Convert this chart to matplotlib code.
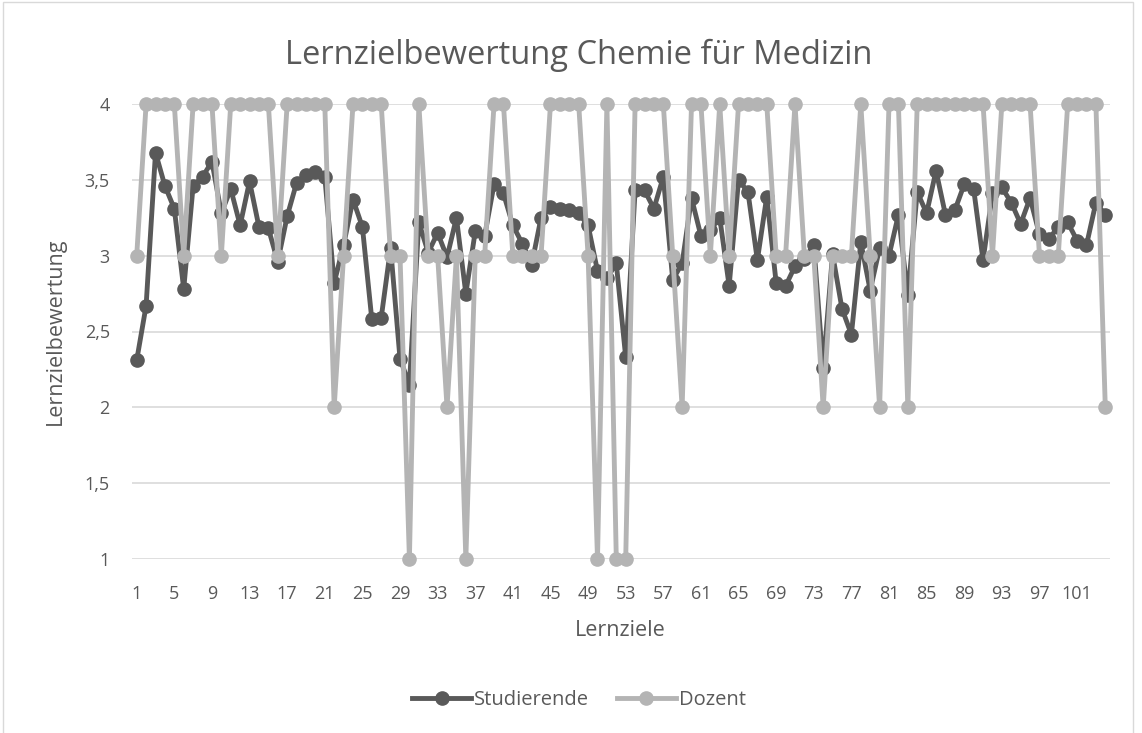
import matplotlib.pyplot as plt
from matplotlib.patches import Rectangle
import numpy as np

# Daten
studierende = [
    2.31, 2.67, 3.68, 3.46, 3.31, 2.78, 3.46, 3.52, 3.62, 3.28,
    3.44, 3.20, 3.49, 3.19, 3.18, 2.96, 3.26, 3.48, 3.53, 3.55,
    3.52, 2.82, 3.07, 3.37, 3.19, 2.58, 2.59, 3.05, 2.32, 2.15,
    3.22, 3.02, 3.15, 2.99, 3.25, 2.75, 3.16, 3.13, 3.47, 3.41,
    3.20, 3.08, 2.94, 3.25, 3.32, 3.31, 3.30, 3.28, 3.20, 2.90,
    2.85, 2.95, 2.33, 3.43, 3.43, 3.31, 3.52, 2.84, 2.95, 3.38,
    3.13, 3.17, 3.25, 2.80, 3.50, 3.42, 2.97, 3.39, 2.82, 2.80,
    2.93, 2.98, 3.07, 2.26, 3.01, 2.65, 2.48, 3.09, 2.77, 3.05,
    3.00, 3.27, 2.74, 3.42, 3.28, 3.56, 3.27, 3.30, 3.47, 3.44,
    2.97, 3.41, 3.45, 3.35, 3.21, 3.38, 3.14, 3.11, 3.19, 3.22,
    3.10, 3.07, 3.35, 3.27,
]
dozent = [
    3, 4, 4, 4, 4, 3, 4, 4, 4, 3,
    4, 4, 4, 4, 4, 3, 4, 4, 4, 4,
    4, 2, 3, 4, 4, 4, 4, 3, 3, 1,
    4, 3, 3, 2, 3, 1, 3, 3, 4, 4,
    3, 3, 3, 3, 4, 4, 4, 4, 3, 1,
    4, 1, 1, 4, 4, 4, 4, 3, 2, 4,
    4, 3, 4, 3, 4, 4, 4, 4, 3, 3,
    4, 3, 3, 2, 3, 3, 3, 4, 3, 2,
    4, 4, 2, 4, 4, 4, 4, 4, 4, 4,
    4, 3, 4, 4, 4, 4, 3, 3, 3, 4,
    4, 4, 4, 2,
]
lernziele = np.arange(1, len(studierende) + 1)
y_ticks = [1, 1.5, 2, 2.5, 3, 3.5, 4]

plt.rcParams['font.family'] = ['Open Sans', 'DejaVu Sans']
text_color = '#595959'

W, H = 1142, 733
fig = plt.figure(figsize=(W / 100, H / 100), dpi=100)
ax = fig.add_axes([132 / W, 1 - 559 / H, (1110 - 132) / W, (559 - 104) / H])

ax.plot(lernziele, studierende, color='#595959', linewidth=3.5,
        marker='o', markersize=9.5, label='Studierende', zorder=3, clip_on=False)
ax.plot(lernziele, dozent, color='#b4b4b4', linewidth=3.5,
        marker='o', markersize=9.5, label='Dozent', zorder=4, clip_on=False)

ax.set_xlim(0.5, len(lernziele) + 0.5)
ax.set_ylim(1, 4)
ax.set_yticks(y_ticks)
ax.set_yticklabels([f"{v:g}".replace('.', ',') for v in y_ticks])
ax.set_xticks(lernziele[::4])
ax.tick_params(axis='both', length=0, labelsize=13, colors=text_color)
ax.tick_params(axis='x', pad=19)
ax.tick_params(axis='y', pad=16)
ax.grid(axis='y', color='#d9d9d9', linewidth=1.2)
ax.set_axisbelow(True)
for s in ax.spines.values():
    s.set_visible(False)

ax.set_xlabel('Lernziele', fontsize=15.5, color=text_color, va='center')
ax.set_ylabel('Lernzielbewertung', fontsize=15.5, color=text_color, va='center')
ax.xaxis.set_label_coords(0.5 + (620 - 621) / 978, -(630 - 559) / 455)
ax.yaxis.set_label_coords(-(132 - 55) / 978, 0.5)

fig.text(579 / W, 1 - 55 / H, 'Lernzielbewertung Chemie für Medizin',
         ha='center', va='center', fontsize=23.5, color=text_color)

fig.legend(loc='center', bbox_to_anchor=(579 / W, 1 - 700 / H), ncol=2,
           frameon=False, fontsize=14.5, labelcolor=text_color,
           handlelength=2.9, columnspacing=1.4, handletextpad=0.15)

fig.patches.append(Rectangle((3 / W, -0.01), 1130 / W, 1.01 - 2 / H,
                             transform=fig.transFigure, fill=False,
                             edgecolor='#d9d9d9', linewidth=1))

fig.savefig('out.png', dpi=100)
